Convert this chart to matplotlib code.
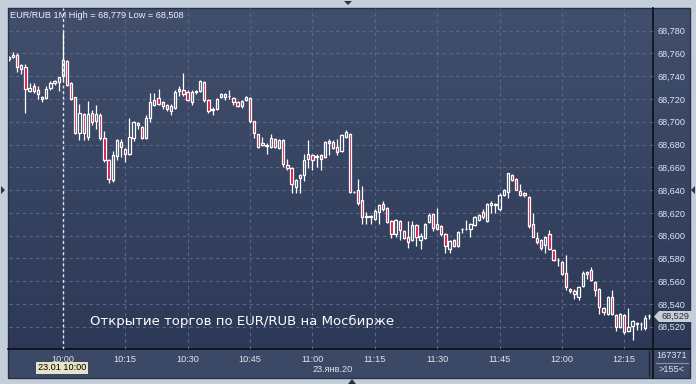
import numpy as np
import matplotlib
matplotlib.use('Agg')
import matplotlib.pyplot as plt
from matplotlib.colors import LinearSegmentedColormap
from matplotlib.patches import Polygon, Rectangle

plt.rcParams['font.family'] = ['Liberation Sans', 'DejaVu Sans']

# 1-minute EUR/RUB candles, 09:47 .. 12:21 (index 13 = 10:00)
opens = [
    68.755, 68.757, 68.759, 68.750, 68.748, 68.727, 68.731, 68.728, 68.722, 68.721,
    68.730, 68.734, 68.735, 68.740, 68.753, 68.734, 68.722, 68.690, 68.707, 68.687,
    68.708, 68.701, 68.706, 68.686, 68.666, 68.649, 68.670, 68.682, 68.676, 68.672,
    68.686, 68.699, 68.695, 68.686, 68.703, 68.715, 68.721, 68.717, 68.715, 68.709,
    68.712, 68.727, 68.728, 68.726, 68.717, 68.726, 68.727, 68.735, 68.719, 68.710,
    68.711, 68.722, 68.722, 68.723, 68.721, 68.717, 68.714, 68.719, 68.721, 68.701,
    68.689, 68.680, 68.679, 68.678, 68.685, 68.677, 68.684, 68.662, 68.659, 68.643,
    68.651, 68.653, 68.667, 68.671, 68.669, 68.671, 68.669, 68.683, 68.682, 68.678,
    68.674, 68.687, 68.689, 68.638, 68.640, 68.631, 68.616, 68.617, 68.615, 68.621,
    68.628, 68.624, 68.613, 68.601, 68.613, 68.604, 68.599, 68.596, 68.609, 68.596,
    68.598, 68.612, 68.619, 68.606, 68.608, 68.601, 68.588, 68.596, 68.591, 68.606,
    68.606, 68.606, 68.609, 68.614, 68.621, 68.613, 68.627, 68.627, 68.623, 68.636,
    68.638, 68.653, 68.650, 68.639, 68.637, 68.634, 68.610, 68.598, 68.596, 68.592,
    68.601, 68.587, 68.579, 68.577, 68.567, 68.553, 68.551, 68.546, 68.556, 68.568,
    68.570, 68.559, 68.553, 68.536, 68.531, 68.546, 68.530, 68.520, 68.530, 68.516,
    68.521, 68.523, 68.522, 68.519, 68.529,
]
highs = [
    68.758, 68.761, 68.760, 68.751, 68.751, 68.734, 68.734, 68.731, 68.723, 68.731,
    68.736, 68.737, 68.739, 68.779, 68.754, 68.735, 68.722, 68.716, 68.708, 68.718,
    68.710, 68.715, 68.708, 68.692, 68.667, 68.674, 68.685, 68.685, 68.677, 68.703,
    68.701, 68.700, 68.696, 68.706, 68.725, 68.725, 68.729, 68.718, 68.716, 68.716,
    68.728, 68.731, 68.743, 68.728, 68.728, 68.728, 68.737, 68.736, 68.720, 68.713,
    68.721, 68.725, 68.725, 68.728, 68.722, 68.718, 68.719, 68.723, 68.722, 68.701,
    68.689, 68.687, 68.681, 68.689, 68.686, 68.685, 68.685, 68.667, 68.660, 68.650,
    68.654, 68.672, 68.684, 68.672, 68.672, 68.672, 68.683, 68.685, 68.684, 68.685,
    68.689, 68.693, 68.690, 68.639, 68.650, 68.644, 68.621, 68.618, 68.623, 68.628,
    68.630, 68.625, 68.614, 68.615, 68.614, 68.605, 68.613, 68.613, 68.610, 68.602,
    68.611, 68.620, 68.620, 68.624, 68.609, 68.602, 68.596, 68.597, 68.604, 68.607,
    68.614, 68.611, 68.617, 68.619, 68.623, 68.629, 68.630, 68.629, 68.637, 68.641,
    68.655, 68.654, 68.651, 68.645, 68.638, 68.635, 68.620, 68.603, 68.597, 68.600,
    68.605, 68.588, 68.580, 68.578, 68.583, 68.554, 68.553, 68.556, 68.569, 68.569,
    68.572, 68.560, 68.554, 68.537, 68.547, 68.552, 68.531, 68.532, 68.531, 68.536,
    68.526, 68.524, 68.524, 68.530, 68.531,
]
lows = [
    68.753, 68.756, 68.744, 68.742, 68.708, 68.726, 68.725, 68.720, 68.717, 68.720,
    68.728, 68.732, 68.727, 68.737, 68.731, 68.719, 68.689, 68.684, 68.684, 68.684,
    68.697, 68.694, 68.684, 68.665, 68.646, 68.647, 68.666, 68.669, 68.665, 68.671,
    68.683, 68.694, 68.685, 68.685, 68.700, 68.714, 68.715, 68.711, 68.709, 68.706,
    68.711, 68.723, 68.723, 68.718, 68.715, 68.724, 68.726, 68.717, 68.708, 68.706,
    68.710, 68.721, 68.719, 68.720, 68.715, 68.713, 68.712, 68.718, 68.699, 68.686,
    68.677, 68.679, 68.672, 68.677, 68.677, 68.676, 68.660, 68.658, 68.637, 68.637,
    68.637, 68.648, 68.659, 68.658, 68.660, 68.658, 68.668, 68.671, 68.676, 68.671,
    68.673, 68.686, 68.637, 68.637, 68.627, 68.610, 68.610, 68.610, 68.614, 68.610,
    68.622, 68.611, 68.598, 68.599, 68.596, 68.597, 68.589, 68.595, 68.591, 68.588,
    68.597, 68.611, 68.604, 68.605, 68.600, 68.585, 68.585, 68.590, 68.590, 68.602,
    68.605, 68.599, 68.608, 68.613, 68.615, 68.612, 68.620, 68.620, 68.622, 68.635,
    68.633, 68.648, 68.640, 68.635, 68.634, 68.607, 68.599, 68.593, 68.587, 68.585,
    68.587, 68.578, 68.573, 68.565, 68.552, 68.550, 68.544, 68.543, 68.555, 68.562,
    68.560, 68.547, 68.531, 68.530, 68.530, 68.530, 68.516, 68.519, 68.514, 68.515,
    68.508, 68.517, 68.517, 68.517, 68.527,
]
closes = [
    68.757, 68.759, 68.748, 68.746, 68.729, 68.730, 68.727, 68.724, 68.720, 68.729,
    68.734, 68.736, 68.739, 68.754, 68.732, 68.720, 68.690, 68.708, 68.690, 68.707,
    68.700, 68.707, 68.686, 68.666, 68.650, 68.671, 68.684, 68.678, 68.672, 68.687,
    68.700, 68.697, 68.686, 68.703, 68.717, 68.719, 68.716, 68.714, 68.711, 68.714,
    68.726, 68.729, 68.724, 68.719, 68.726, 68.727, 68.736, 68.719, 68.709, 68.711,
    68.720, 68.724, 68.724, 68.723, 68.717, 68.714, 68.718, 68.722, 68.701, 68.690,
    68.678, 68.681, 68.680, 68.686, 68.678, 68.684, 68.663, 68.659, 68.645, 68.649,
    68.653, 68.666, 68.672, 68.666, 68.670, 68.667, 68.682, 68.681, 68.677, 68.673,
    68.688, 68.691, 68.638, 68.638, 68.629, 68.616, 68.617, 68.616, 68.622, 68.627,
    68.623, 68.612, 68.601, 68.614, 68.605, 68.598, 68.594, 68.609, 68.599, 68.600,
    68.610, 68.618, 68.607, 68.610, 68.601, 68.591, 68.595, 68.591, 68.603, 68.606,
    68.606, 68.610, 68.616, 68.618, 68.616, 68.628, 68.629, 68.628, 68.636, 68.640,
    68.655, 68.649, 68.640, 68.636, 68.636, 68.608, 68.599, 68.594, 68.589, 68.599,
    68.588, 68.579, 68.579, 68.566, 68.555, 68.551, 68.549, 68.555, 68.567, 68.566,
    68.561, 68.552, 68.537, 68.533, 68.546, 68.531, 68.520, 68.531, 68.515, 68.520,
    68.525, 68.522, 68.522, 68.528, 68.529,
]

time_ticks = [0, 15, 30, 45, 60, 75, 90, 105, 120, 135]
time_labels = ['10:00', '10:15', '10:30', '10:45', '11:00', '11:15',
               '11:30', '11:45', '12:00', '12:15']
price_ticks = [68.52, 68.54, 68.56, 68.58, 68.60, 68.62, 68.64,
               68.66, 68.68, 68.70, 68.72, 68.74, 68.76, 68.78]

title_txt = 'EUR/RUB 1M High = 68,779 Low = 68,508'
note_txt = 'Открытие торгов по EUR/RUB на Мосбирже'
last_price = '68,529'

W, H = 696, 384
fig = plt.figure(figsize=(W / 100, H / 100), dpi=100)
fig.patch.set_facecolor('#c4cedb')


def pixel_axes(z):
    a = fig.add_axes([0, 0, 1, 1], zorder=z)
    a.set_xlim(0, W)
    a.set_ylim(H, 0)
    a.axis('off')
    a.patch.set_visible(False)
    return a


# background panels, pixel coordinates (y downwards)
bg = fig.add_axes([0, 0, 1, 1], zorder=0)
grad = np.linspace(0, 1, 256).reshape(-1, 1)
cmap = LinearSegmentedColormap.from_list('bg', ['#414f6d', '#2b3754'])
bg.imshow(grad, aspect='auto', cmap=cmap, extent=(8, 690, 378, 8), origin='upper')
bg.set_xlim(0, W)
bg.set_ylim(H, 0)
bg.axis('off')
bg.add_patch(Rectangle((8, 349), 682, 29, color='#3c4966', lw=0))
bg.add_patch(Rectangle((8, 8), 682, 370, fill=False, ec='#263046', lw=1))
bg.plot([8, 690], [349, 349], color='#0c0f16', lw=1.2)
bg.plot([653, 653], [8, 378], color='#0c0f16', lw=1.2)
bg.plot([649, 649], [351, 376], color='#1c2436', lw=1)
bg.plot([656, 688], [363, 363], color='#8590a6', lw=0.8)
for pts in ([(344, 1), (352, 1), (348, 5)], [(1, 186), (1, 194), (5, 190)],
            [(695, 186), (695, 194), (691, 190)], [(348, 384), (356, 384), (352, 379)]):
    bg.add_patch(Polygon(pts, color='#2a3346', lw=0))

# main chart
ax = fig.add_axes([9 / W, 1 - 349 / H, 644 / W, 341 / H], zorder=2)
ax.set_facecolor('none')

x = np.arange(len(opens)) - 13
o = np.array(opens)
c = np.array(closes)
hi = np.array(highs)
lo = np.array(lows)
top = np.maximum(o, c)
bot = np.minimum(o, c)
fills = np.where(c < o, '#e4063c', 'none')

ax.vlines(x, top, hi, color='white', lw=0.9, zorder=3)
ax.vlines(x, lo, bot, color='white', lw=0.9, zorder=3)
ax.bar(x, top - bot, bottom=bot, width=0.55, color=fills, edgecolor='white',
       linewidth=0.9, zorder=4)

ax.axvline(0, color='#e6e8ee', lw=1, ls=(0, (2, 2)), zorder=2)

ax.set_xlim(-12.95, 141.9)
ax.set_ylim(68.5004, 68.7999)
ax.set_xticks(time_ticks)
ax.set_xticklabels(time_labels)
ax.set_yticks(price_ticks)
ax.set_yticklabels([('%.3f' % v).replace('.', ',') for v in price_ticks])
ax.yaxis.tick_right()
ax.tick_params(axis='x', length=0, pad=4, labelsize=6.6, labelcolor='#dfe4ee')
ax.tick_params(axis='y', length=0, pad=3, labelsize=6.6, labelcolor='#dce6f6')
ax.grid(True, color='#56678a', lw=0.8, ls=(0, (3, 3)))
for s in ax.spines.values():
    s.set_visible(False)

# overlay texts
fg = pixel_axes(3)
fg.text(10, 15, title_txt, fontsize=6.6, color='#eef1f6', va='center', ha='left')
fg.text(90, 321, note_txt, fontsize=9.5, color='white', va='center', ha='left',
        family=['DejaVu Sans'])
fg.text(333, 369, '23.янв.20', fontsize=6.6, color='#dfe4ee', va='center', ha='center')
fg.text(62, 368, '23.01 10:00', fontsize=6.6, color='black', va='center', ha='center',
        bbox=dict(boxstyle='square,pad=0.2', fc='#e6e3c6', ec='none'))
fg.text(672, 356, '167371', fontsize=6.6, color='#dfe4ee', va='center', ha='center')
fg.text(672, 370, '>155<', fontsize=6.6, color='#dfe4ee', va='center', ha='center')
fg.add_patch(Polygon([(654, 316.5), (659, 311), (692, 311), (692, 322), (659, 322)],
                     color='#c9cdd4', lw=0))
fg.text(675, 316.5, last_price, fontsize=6.6, color='#1b2a48', va='center', ha='center')

fig.savefig('out.png', dpi=100, facecolor=fig.get_facecolor())
